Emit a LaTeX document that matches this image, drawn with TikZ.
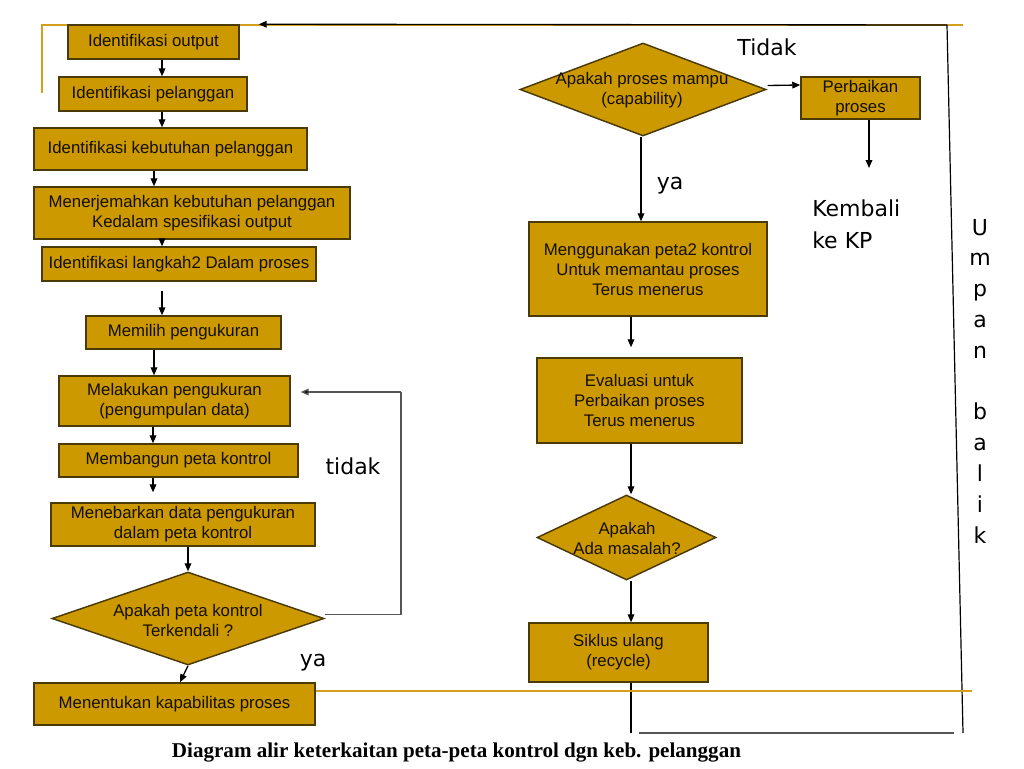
\documentclass[tikz,border=0pt]{standalone}
\usepackage{fontspec}
\setmainfont{Liberation Sans}
\newfontfamily\lblfont{DejaVu Sans}
\newfontfamily\capfont{Liberation Serif}
\usetikzlibrary{arrows.meta,calc,shapes.geometric}
\definecolor{gold}{HTML}{CC9900}
\definecolor{goldline}{HTML}{D4A01C}
\definecolor{border}{HTML}{4A3A05}
\definecolor{ink}{HTML}{140F00}
\definecolor{fbgray}{HTML}{555555}
\begin{document}
\begin{tikzpicture}[x=0.75pt,y=-0.75pt,
  box/.style={draw=border, line width=1.1pt, fill=gold, text=ink,
    font=\fontsize{12.6}{15}\selectfont, align=center, inner sep=0pt},
  dia/.style={diamond, draw=border, line width=1.1pt, fill=gold, inner sep=0pt},
  dtxt/.style={text=ink, font=\fontsize{12.6}{15}\selectfont, align=center, inner sep=0pt},
  arr/.style={draw=black, line width=1pt, -{Triangle[length=6pt,width=5pt]}},
  plain/.style={draw=black, line width=1pt},
  fb/.style={draw=fbgray, line width=1pt},
  deco/.style={draw=goldline, line width=1.8pt},
  big/.style={font=\lblfont\fontsize{16.5}{24}\selectfont, text=black, inner sep=0pt},
]
\useasboundingbox (0,0) rectangle (1024,768);

% decorative golden lines
\coordinate (gtl) at (42,25);
\coordinate (gtr) at (963,25);
\coordinate (gvl) at (42,93);
\draw[deco] (gvl) -- (gtl) -- (gtr);

% ---------- left column ----------
\node[box, minimum width=128.25pt, minimum height=25.5pt] (b1) at (153.5,42) {Identifikasi output};
\node[box, minimum width=141pt, minimum height=25.5pt] (b2) at (153,94) {Identifikasi pelanggan};
\node[box, minimum width=204.75pt, minimum height=31.5pt] (b3) at (170.5,149) {Identifikasi kebutuhan pelanggan};
\node[box, minimum width=237pt, minimum height=39pt] (b4) at (192,213) {Menerjemahkan kebutuhan pelanggan\\Kedalam spesifikasi output};
\node[box, minimum width=205.5pt, minimum height=25.5pt] (b5) at (179,264) {Identifikasi langkah2 Dalam proses};
\node[box, minimum width=146.25pt, minimum height=24.75pt] (b6) at (183.5,332.5) {Memilih pengukuran};
\node[box, minimum width=173.25pt, minimum height=37.5pt] (b7) at (174.5,401) {Melakukan pengukuran\\(pengumpulan data)};
\node[box, minimum width=179.25pt, minimum height=24.75pt] (b8) at (178.5,460.5) {Membangun peta kontrol};
\node[box, minimum width=198pt, minimum height=32.25pt] (b9) at (183,524.5) {Menebarkan data pengukuran\\dalam peta kontrol};
\node[dia, minimum width=204pt, minimum height=69.75pt] (d1) at (188,618.5) {};
\node[dtxt] (d1t) at (188,620) {Apakah peta kontrol\\Terkendali ?};
\node[box, minimum width=210.75pt, minimum height=31.5pt] (b11) at (174.5,704) {Menentukan kapabilitas proses};

\draw[arr] ($(b1.south)+(8.5,0)$) -- ($(b2.north)+(9,0)$);
\draw[arr] ($(b2.south)+(9,0)$) -- ($(b3.north)+(-8.5,0)$);
\draw[arr] ($(b3.south)+(-16.5,0)$) -- ($(b4.north)+(-38,0)$);
\draw[arr] ($(b4.south)+(-30,0)$) -- ($(b5.north)+(-17,0)$);
\draw[arr, shorten <=6.75pt] ($(b5.south)+(-17,0)$) -- ($(b6.north)+(-21.5,0)$);
\draw[arr] ($(b6.south)+(-29.5,0)$) -- ($(b7.north)+(-20.5,0)$);
\draw[arr] ($(b7.south)+(-21.5,0)$) -- ($(b8.north)+(-25.5,0)$);
\draw[arr, shorten >=7.5pt] ($(b8.south)+(-25.5,0)$) -- ($(b9.north)+(-30,0)$);
\draw[arr] ($(b9.south)+(5,0)$) -- (d1.north);
\draw[arr] (d1.south) -- ($(b11.north)+(5.5,0)$);

% feedback "tidak"
\coordinate (fbc) at (401,392);
\draw[fb] ($(d1.east)+(0,-4)$) -| (fbc);
\draw[fb, -{Triangle[length=6pt,width=5pt,fill=black]}, shorten >=7.5pt] (fbc) -- ($(b7.east)+(0,-9)$);
\node[big] (ltidak) at (353,466) {tidak};
\node[big] (lya1) at (313,663) {ya};

% ---------- right column ----------
\node[dia, minimum width=184.5pt, minimum height=69.75pt] (d2) at (643,89.5) {};
\node[dtxt] (d2t) at (642,90) {Apakah proses mampu\\(capability)};
\node[box, minimum width=89.25pt, minimum height=31.5pt] (bP) at (860.5,98) {Perbaikan\\proses};
\node[box, minimum width=178.5pt, minimum height=70.5pt] (bM) at (648,269) {Menggunakan peta2 kontrol\\Untuk memantau proses\\Terus menerus};
\node[box, minimum width=153.75pt, minimum height=63.75pt] (bE) at (639.5,400.5) {Evaluasi untuk\\Perbaikan proses\\Terus menerus};
\node[dia, minimum width=134.25pt, minimum height=63.75pt] (d3) at (626.5,537.5) {};
\node[dtxt] (d3t) at (627,538) {Apakah\\Ada masalah?};
\node[box, minimum width=134.25pt, minimum height=44.25pt] (bS) at (618.5,652.5) {Siklus ulang\\(recycle)};

\node[big] (ltidak2) at (767,47) {Tidak};
\node[big] (lya2) at (670,186) {ya};
\node[big, anchor=west, align=left] (lkp) at (812,224) {Kembali\\ke KP};

\coordinate (kpa) at (869,168);
\draw[arr] ($(d2.east)+(1,-4)$) -- ($(bP.west)+(0,-13)$);
\draw[arr] ($(bP.south)+(8.5,0)$) -- (kpa);
\draw[arr] ($(d2.south)+(-2,0)$) -- ($(bM.north)+(-7,0)$);
\draw[arr, shorten >=7.5pt] ($(bM.south)+(-17,0)$) -- ($(bE.north)+(-8.5,0)$);
\draw[arr] ($(bE.south)+(-8.5,0)$) -- ($(d3.north)+(4.5,0)$);
\draw[arr] ($(d3.south)+(4.5,0)$) -- ($(bS.north)+(12.5,0)$);

% outer feedback loop
\coordinate (sb) at (631,733);
\coordinate (bl) at (639,733);
\coordinate (br) at (954,733);
\coordinate (vb) at (963,733);
\coordinate (vt) at (947,25);
\draw[plain] ($(bS.south)+(12.5,0)$) -- (sb);
\draw[fb] (bl) -- (br);
\draw[draw=black, line width=0.9pt] (vb) -- (vt);
\draw[arr] (vt) -- ($(b1.north east)+(19,0)$);

% bottom golden line
\coordinate (gbl) at (316,691);
\coordinate (gbr) at (972,691);
\draw[deco] (gbl) -- (gbr);

% Umpan balik
\foreach \L/\i in {U/0,m/1,p/2,a/3,n/4,b/6,a/7,l/8,i/9,k/10}{
  \node[big, anchor=base] (ub\i) at (980,235+30.8*\i) {\L};
}

% caption
\node[anchor=base, inner sep=0pt, font=\capfont\bfseries\fontsize{15.8}{18}\selectfont] (cap) at (456.5,757) {Diagram alir keterkaitan peta-peta kontrol dgn keb. pelanggan};
\end{tikzpicture}
\end{document}
